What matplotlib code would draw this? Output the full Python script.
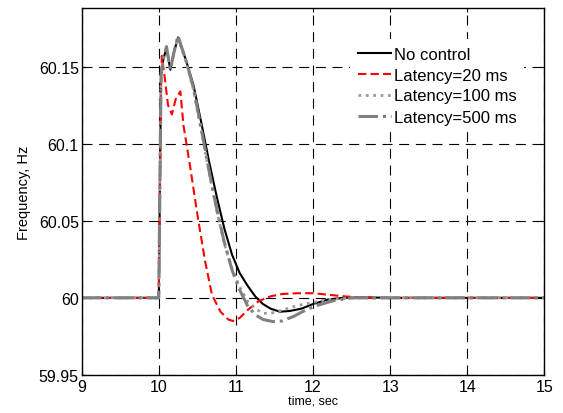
import numpy as np
import matplotlib.pyplot as plt

plt.rcParams['font.family'] = ['Liberation Sans', 'DejaVu Sans']

# Valores (tempo em s, frequencia em Hz)
t_nc = [9, 10.0, 10.01, 10.03, 10.06, 10.10, 10.15, 10.20, 10.25, 10.30, 10.36,
        10.45, 10.55, 10.65, 10.75, 10.85, 10.95, 11.05, 11.15, 11.25, 11.35,
        11.45, 11.57, 11.70, 11.85, 12.0, 12.2, 12.4, 12.7, 13.0, 15.0]
f_nc = [60, 60, 60.05, 60.145, 60.155, 60.162, 60.148, 60.160, 60.169, 60.162, 60.153,
        60.138, 60.114, 60.089, 60.066, 60.045, 60.028, 60.016, 60.008, 60.001, 59.996,
        59.993, 59.991, 59.9915, 59.993, 59.996, 59.999, 60.0, 60.0003, 60.0, 60.0]

t_20 = [9, 10.0, 10.01, 10.03, 10.04, 10.08, 10.12, 10.17, 10.22, 10.28, 10.32,
        10.41, 10.51, 10.60, 10.69, 10.80, 10.90, 10.96, 11.05, 11.15, 11.30,
        11.45, 11.60, 11.80, 12.0, 12.2, 12.4, 12.7, 13.0, 15.0]
f_20 = [60, 60, 60.05, 60.14, 60.157, 60.142, 60.125, 60.119, 60.129, 60.134, 60.112,
        60.084, 60.051, 60.024, 60.002, 59.991, 59.986, 59.985, 59.987, 59.992, 59.998,
        60.001, 60.0025, 60.003, 60.003, 60.002, 60.001, 60.0, 60.0, 60.0]

t_100 = [9, 10.0, 10.01, 10.03, 10.06, 10.10, 10.15, 10.20, 10.25, 10.30, 10.36,
         10.45, 10.55, 10.65, 10.75, 10.85, 10.95, 11.05, 11.15, 11.25, 11.35,
         11.45, 11.60, 11.80, 12.0, 12.2, 12.5, 13.0, 15.0]
f_100 = [60, 60, 60.05, 60.145, 60.155, 60.162, 60.148, 60.160, 60.169, 60.161, 60.152,
         60.135, 60.109, 60.082, 60.057, 60.035, 60.019, 60.007, 59.998, 59.993, 59.990,
         59.990, 59.992, 59.995, 59.997, 59.999, 60.0, 60.0, 60.0]

t_500 = [9, 10.0, 10.01, 10.03, 10.06, 10.10, 10.15, 10.20, 10.25, 10.30, 10.36,
         10.45, 10.55, 10.65, 10.75, 10.85, 10.95, 11.05, 11.15, 11.25, 11.35,
         11.48, 11.60, 11.75, 11.90, 12.05, 12.25, 12.5, 13.0, 15.0]
f_500 = [60, 60, 60.05, 60.145, 60.155, 60.163, 60.148, 60.160, 60.170, 60.162, 60.153,
         60.136, 60.110, 60.083, 60.058, 60.036, 60.018, 60.005, 59.995, 59.989, 59.986,
         59.9846, 59.985, 59.988, 59.992, 59.995, 59.998, 60.0, 60.0, 60.0]

fig = plt.figure(figsize=(5.63, 4.14), dpi=100)
ax = fig.add_axes([0.145, 0.092, 0.822, 0.886])

ax.plot(t_nc, f_nc, color='black', lw=1.5, label='No control')
ax.plot(t_20, f_20, color='red', lw=1.5, ls=(0, (4, 2)), label='Latency=20 ms')
ax.plot(t_100, f_100, color='#9a9a9a', lw=2.0, ls=':', label='Latency=100 ms')
ax.plot(t_500, f_500, color='#808080', lw=2.2, ls='-.', label='Latency=500 ms')

ax.set_xlim(9, 15)
ax.set_ylim(59.95, 60.188)
ax.set_xticks([9, 10, 11, 12, 13, 14, 15])
ax.set_yticks([59.95, 60, 60.05, 60.1, 60.15])
ax.set_yticklabels(['59.95', '60', '60.05', '60.1', '60.15'])

ax.grid(True, color='black', lw=0.8, ls=(0, (9, 6)))
ax.tick_params(direction='in', length=3, top=True, right=True, labelsize=11.5)
ax.tick_params(axis='x', pad=3)
ax.tick_params(axis='y', pad=2)
for s in ax.spines.values():
    s.set_linewidth(1.0)

ax.set_xlabel('time, sec', fontsize=9, labelpad=0)
ax.set_ylabel('Frequency, Hz', fontsize=10.5, labelpad=6)

leg = ax.legend(loc='upper left', bbox_to_anchor=(350 / 563, 1 - 40 / 414),
                bbox_transform=fig.transFigure, frameon=True, fontsize=12,
                handlelength=2.0, handletextpad=0.2, labelspacing=0.36,
                borderpad=0.45, borderaxespad=0)
leg.get_frame().set_edgecolor('none')
leg.get_frame().set_facecolor('white')
leg.get_frame().set_alpha(1)

fig.savefig('out.png', dpi=100)
